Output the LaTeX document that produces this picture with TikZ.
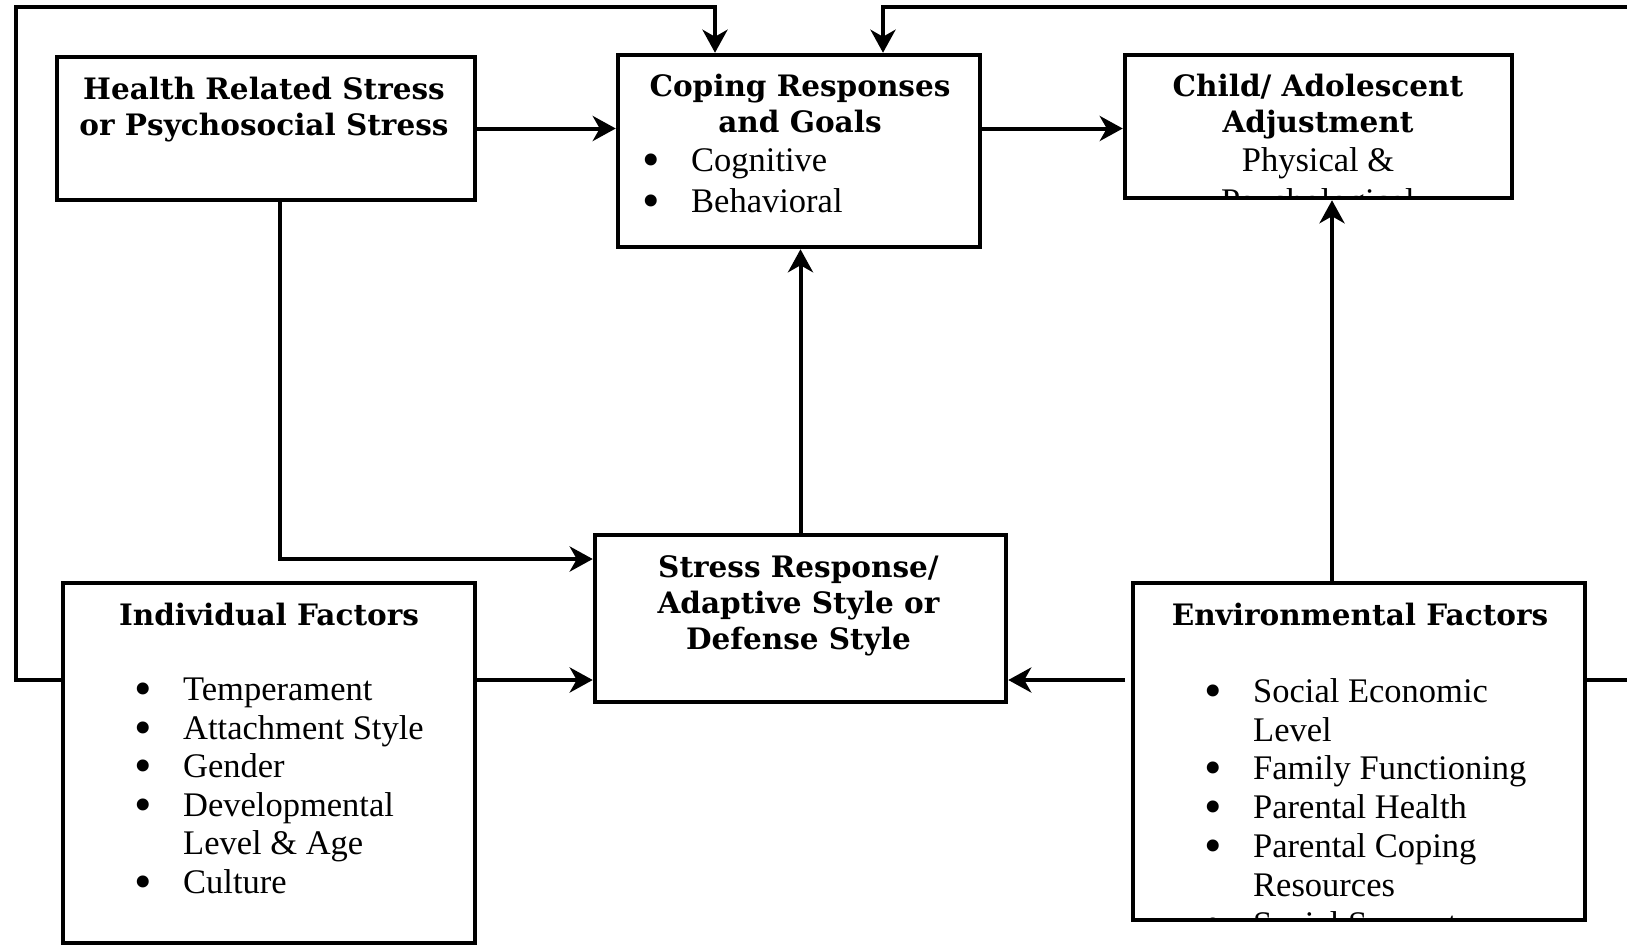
\documentclass[tikz,border=0pt]{standalone}
\usepackage{fontspec}
\setmainfont{Liberation Serif}
\newfontfamily\headfont{DejaVu Serif}
\usetikzlibrary{arrows.meta}
\tikzset{
  box/.style={draw, line width=4.5pt, inner sep=0pt},
  head/.style={inner sep=0pt, align=center, font=\headfont\bfseries\fontsize{29.5}{36}\selectfont},
  body/.style={inner sep=0pt, align=left, font=\fontsize{34.5}{38.5}\selectfont},
  conn/.style={line width=4pt, -{Stealth[length=23pt,width=25pt,inset=7pt]}}
}
\newcommand{\itm}[1]{\makebox[49pt][l]{\smash{\raisebox{-5pt}{\scalebox{1.45}{\textbullet}}}}#1}
\newcommand{\cnt}[1]{\hspace*{49pt}#1}

\begin{document}
\begin{tikzpicture}[x=1pt,y=-1pt]
\useasboundingbox (0,0) rectangle (1627,945);
\clip (0,0) rectangle (1627,945);

% boxes
\node[box, minimum width=418pt, minimum height=143pt] (health) at (266,128.5) {};
\node[box, minimum width=362pt, minimum height=192pt] (coping) at (799,151) {};
\node[box, minimum width=387pt, minimum height=143pt] (child) at (1318.5,126.5) {};
\node[box, minimum width=411pt, minimum height=167pt] (stress) at (800.5,618.5) {};
\node[box, minimum width=412pt, minimum height=360pt] (indiv) at (269,763) {};
\node[box, minimum width=452pt, minimum height=337pt] (env) at (1359,751.5) {};

% texts (anchored at the baseline of their last line)
\node[head, anchor=base] (healthT) at (264,135) {Health Related Stress\\or Psychosocial Stress};
\node[head, anchor=base] (copingT) at (800,132) {Coping Responses\\and Goals};
\node[body, anchor=base west, font=\fontsize{34.5}{40.5}\selectfont] (copingL) at (642,212) {\itm{Cognitive}\\\itm{Behavioral}};
\node[head, anchor=base] (childT) at (1318,132) {Child/ Adolescent\\Adjustment};
\begin{scope}
  \clip ([shift={(4.5,4.5)}]child.north west) rectangle ([shift={(-4.5,-4.5)}]child.south east);
  \node[body, align=center, anchor=base, font=\fontsize{34.5}{41}\selectfont] (childS) at (1318,212) {Physical \&\\Psychological};
\end{scope}
\node[head, anchor=base] (stressT) at (798.5,649) {Stress Response/\\Adaptive Style or\\Defense Style};
\node[head, anchor=base] (indivT) at (269,625) {Individual Factors};
\node[body, anchor=base west] (indivL) at (134,893) {\itm{Temperament}\\\itm{Attachment Style}\\\itm{Gender}\\\itm{Developmental}\\\cnt{Level \& Age}\\\itm{Culture}};
\node[head, anchor=base] (envT) at (1360,625) {Environmental Factors};
\begin{scope}
  \clip ([shift={(4.5,4.5)}]env.north west) rectangle ([shift={(-4.5,-4.5)}]env.south east);
  \node[body, anchor=base west, font=\fontsize{34.5}{38.8}\selectfont] (envL) at (1204,935) {\itm{Social Economic}\\\cnt{Level}\\\itm{Family Functioning}\\\itm{Parental Health}\\\itm{Parental Coping}\\\cnt{Resources}\\\itm{Social Support}};
\end{scope}

% connectors
\coordinate (topL) at (16,7);
\coordinate (topR) at (1645,7);
\coordinate (low) at (0,680);
\coordinate (mid) at (0,559);
\coordinate (envin) at (1125,680);
\draw[conn] (indiv.west |- low) -| (topL) -| ([xshift=-84pt]coping.north);
\draw[conn] (env.east |- low) -| (topR) -| ([xshift=84pt]coping.north);
\draw[conn] (health.east) -- (coping.west |- health.east);
\draw[conn] (coping.east |- health.east) -- (child.west |- health.east);
\draw[conn] ([xshift=14pt]health.south) |- (stress.west |- mid);
\draw[conn] (indiv.east |- low) -- (stress.west |- low);
\draw[conn] (envin) -- (stress.east |- low);
\draw[conn] (stress.north) -- (stress.north |- coping.south);
\draw[conn] ([xshift=-27pt]env.north) -- ([xshift=-27pt]env.north |- child.south);
\end{tikzpicture}
\end{document}
